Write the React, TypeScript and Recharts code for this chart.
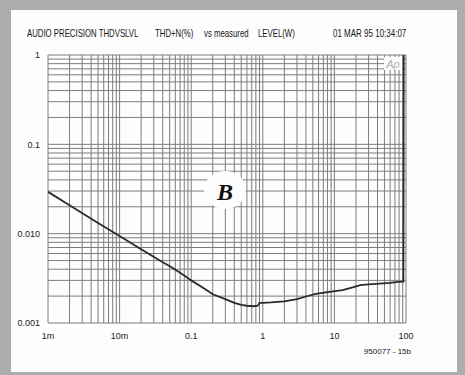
import React from 'react';
import { LineChart, Line, XAxis, YAxis, CartesianGrid } from 'recharts';

// Measured level (W) vs THD+N (%)
const levelW = [0.001, 0.002, 0.005, 0.01, 0.02, 0.035, 0.056, 0.08, 0.1, 0.15, 0.2, 0.3, 0.4, 0.5, 0.6, 0.75, 0.85, 0.9, 1.0, 1.3, 2, 3, 4, 5.5, 8, 13, 18, 23, 30, 48, 60, 78, 92, 93];
const thdPct = [0.0294, 0.0208, 0.0132, 0.0094, 0.0067, 0.0051, 0.0041, 0.0034, 0.003, 0.00245, 0.0021, 0.00185, 0.00168, 0.0016, 0.00156, 0.00154, 0.00156, 0.00168, 0.00168, 0.0017, 0.00175, 0.00185, 0.00198, 0.00212, 0.00222, 0.00233, 0.0025, 0.00265, 0.0027, 0.00278, 0.00282, 0.00289, 0.0029, 1];

const xMajor = [0.001, 0.01, 0.1, 1, 10, 100];
const xMajorLabels = ['1m', '10m', '0.1', '1', '10', '100'];
const yMajor = [0.001, 0.01, 0.1, 1];
const yMajorLabels = ['0.001', '0.010', '0.1', '1'];
const minorSteps = [1, 2, 3, 4, 5, 6, 7, 8, 9];

const buildTicks = (majors: number[]) => {
  const out: number[] = [];
  majors.slice(0, -1).forEach((m) => minorSteps.forEach((k) => out.push(+(m * k).toPrecision(6))));
  out.push(majors[majors.length - 1]);
  return out;
};
const xTicks = buildTicks(xMajor);
const yTicks = buildTicks(yMajor);

const fmt = (majors: number[], labels: string[]) => (v: number) => {
  const i = majors.findIndex((m) => Math.abs(m - v) / m < 1e-6);
  return i >= 0 ? labels[i] : '';
};

const data = levelW.map((x, i) => ({ x, y: thdPct[i] }));

const FONT = "'Liberation Sans', Arial, sans-serif";

const Narrow = ({ x, y, sx, size, children, anchor }: { x: number; y: number; sx: number; size: number; children: string; anchor?: string }) => (
  <g transform={`translate(${x},${y}) scale(${sx},1)`}>
    <text x={0} y={0} fontSize={size} fontFamily={FONT} fill="#151515" textAnchor={anchor || 'start'}>{children}</text>
  </g>
);

export default function App() {
  return (
    <div style={{ position: 'absolute', left: 0, top: 0, width: 465, height: 375, background: '#acacac', overflow: 'hidden' }}>
      <div style={{ position: 'absolute', left: 11, top: 10, width: 446, height: 362, background: '#fdfdfd' }} />
      <div style={{ position: 'absolute', left: 0, top: 0 }}>
        <LineChart width={465} height={375} data={data} margin={{ top: 55, right: 59, bottom: 22, left: 8 }}>
          <CartesianGrid stroke="#7d7d7d" strokeWidth={1} />
          <XAxis
            dataKey="x"
            type="number"
            scale="log"
            domain={[0.001, 100]}
            ticks={xTicks}
            interval={0}
            allowDataOverflow
            tickFormatter={fmt(xMajor, xMajorLabels)}
            tickLine={false}
            axisLine={false}
            tickMargin={4}
            height={30}
            tick={{ fontSize: 9, fill: '#222', fontFamily: FONT }}
          />
          <YAxis
            dataKey="y"
            type="number"
            scale="log"
            domain={[0.001, 1]}
            ticks={yTicks}
            interval={0}
            allowDataOverflow
            tickFormatter={fmt(yMajor, yMajorLabels)}
            tickLine={false}
            axisLine={false}
            width={40}
            tick={{ fontSize: 9, fill: '#222', fontFamily: FONT }}
          />
          <Line type="linear" dataKey="y" stroke="#2a2a2a" strokeWidth={1.8} dot={false} isAnimationActive={false} />
        </LineChart>
      </div>
      <svg width={465} height={375} style={{ position: 'absolute', left: 0, top: 0, pointerEvents: 'none' }}>
        <Narrow x={27} y={37} sx={0.78} size={10}>AUDIO PRECISION THDVSLVL</Narrow>
        <Narrow x={155} y={37} sx={0.78} size={10}>THD+N(%)</Narrow>
        <Narrow x={204} y={37} sx={0.78} size={10}>vs measured</Narrow>
        <Narrow x={258} y={37} sx={0.78} size={10}>LEVEL(W)</Narrow>
        <Narrow x={333} y={37} sx={0.8} size={10}>01 MAR 95 10:34:07</Narrow>
        <rect x={384} y={57} width={18} height={13} fill="#fdfdfd" />
        <text x={393} y={68} fontSize={11} fontStyle="italic" fontFamily={FONT} fill="#b0b0b0" textAnchor="middle">Ap</text>
        <ellipse cx={225} cy={190} rx={21} ry={19} fill="#fdfdfd" />
        <text x={225} y={200} fontSize={24} fontWeight="bold" fontStyle="italic" fontFamily="'Liberation Serif', 'Times New Roman', serif" fill="#111" textAnchor="middle">B</text>
        <Narrow x={411} y={354} sx={1} size={8} anchor="end">950077 - 15b</Narrow>
      </svg>
    </div>
  );
}
